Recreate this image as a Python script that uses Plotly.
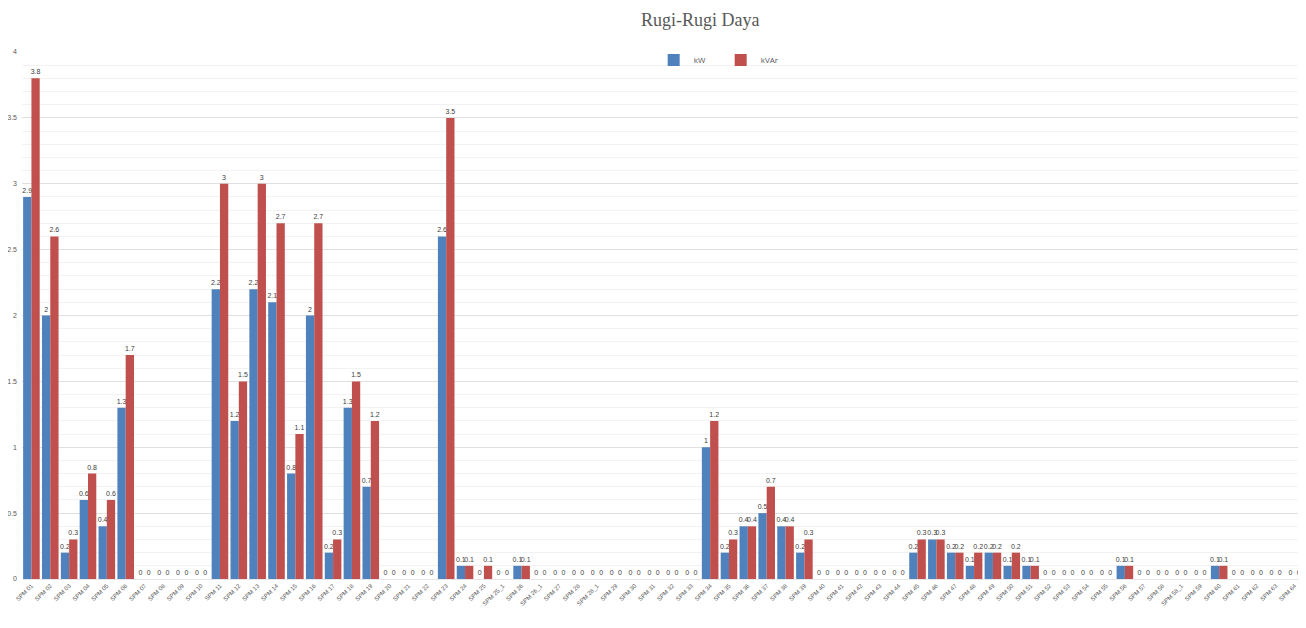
import plotly.graph_objects as go

categories = [
    "SPM 01", "SPM 02", "SPM 03", "SPM 04", "SPM 05", "SPM 06", "SPM 07", "SPM 08",
    "SPM 09", "SPM 10", "SPM 11", "SPM 12", "SPM 13", "SPM 14", "SPM 15", "SPM 16",
    "SPM 17", "SPM 18", "SPM 19", "SPM 20", "SPM 21", "SPM 22", "SPM 23", "SPM 24",
    "SPM 25", "SPM 25_1", "SPM 26", "SPM 26_1", "SPM 27", "SPM 28", "SPM 28_1", "SPM 29",
    "SPM 30", "SPM 31", "SPM 32", "SPM 33", "SPM 34", "SPM 35", "SPM 36", "SPM 37",
    "SPM 38", "SPM 39", "SPM 40", "SPM 41", "SPM 42", "SPM 43", "SPM 44", "SPM 45",
    "SPM 46", "SPM 47", "SPM 48", "SPM 49", "SPM 50", "SPM 51", "SPM 52", "SPM 53",
    "SPM 54", "SPM 55", "SPM 56", "SPM 57", "SPM 58", "SPM 58_1", "SPM 59", "SPM 60",
    "SPM 61", "SPM 62", "SPM 63", "SPM 64",
]

kw = [
    2.9, 2, 0.2, 0.6, 0.4, 1.3, 0, 0,
    0, 0, 2.2, 1.2, 2.2, 2.1, 0.8, 2,
    0.2, 1.3, 0.7, 0, 0, 0, 2.6, 0.1,
    0, 0, 0.1, 0, 0, 0, 0, 0,
    0, 0, 0, 0, 1, 0.2, 0.4, 0.5,
    0.4, 0.2, 0, 0, 0, 0, 0, 0.2,
    0.3, 0.2, 0.1, 0.2, 0.1, 0.1, 0, 0,
    0, 0, 0.1, 0, 0, 0, 0, 0.1,
    0, 0, 0, 0,
]

kvar = [
    3.8, 2.6, 0.3, 0.8, 0.6, 1.7, 0, 0,
    0, 0, 3, 1.5, 3, 2.7, 1.1, 2.7,
    0.3, 1.5, 1.2, 0, 0, 0, 3.5, 0.1,
    0.1, 0, 0.1, 0, 0, 0, 0, 0,
    0, 0, 0, 0, 1.2, 0.3, 0.4, 0.7,
    0.4, 0.3, 0, 0, 0, 0, 0, 0.3,
    0.3, 0.2, 0.2, 0.2, 0.2, 0.1, 0, 0,
    0, 0, 0.1, 0, 0, 0, 0, 0.1,
    0, 0, 0, 0,
]

series_names = ["kW", "kVAr"]
colors = ["#4F81BD", "#C0504D"]


def fmt(v):
    return ("%g" % v)


fig = go.Figure()
for name, vals, col in zip(series_names, [kw, kvar], colors):
    fig.add_trace(go.Bar(
        x=categories, y=vals, name=name,
        marker=dict(color=col, line=dict(width=0)),
        text=[fmt(v) for v in vals], textposition="outside",
        textfont=dict(size=7, color="#404040", family="Liberation Sans"),
        cliponaxis=False,
    ))

fig.update_layout(
    width=1306, height=628,
    margin=dict(l=14, r=10, t=44, b=57),
    paper_bgcolor="white", plot_bgcolor="white",
    barmode="group", bargap=0.12, bargroupgap=0.0,
    title=dict(text="Rugi-Rugi Daya", x=0.53, xanchor="center", y=0.981, yanchor="middle",
               font=dict(family="Liberation Serif", size=18, color="#595959")),
    legend=dict(orientation="h", x=0.545, xanchor="center", y=0.985, yanchor="middle",
                font=dict(size=8, color="#595959"), bgcolor="rgba(0,0,0,0)",
                itemwidth=30, entrywidth=22, entrywidthmode="pixels", tracegroupgap=0),
    showlegend=True,
    uniformtext=dict(minsize=6, mode="show"),
)

fig.update_yaxes(
    range=[0, 4], dtick=0.5, automargin=False,
    showgrid=True, gridcolor="#e0e0e0", gridwidth=1,
    minor=dict(dtick=0.1, showgrid=True, gridcolor="#f2f2f2", gridwidth=1),
    zeroline=False, showline=False,
    tickfont=dict(size=7, color="#595959", family="Liberation Sans"),
    ticks="", ticklabelstandoff=4,
)
fig.update_xaxes(
    tickangle=-45, automargin=False,
    tickfont=dict(size=6, color="#595959", family="Liberation Sans"),
    showgrid=False, showline=True, linecolor="#e6e6e6", ticks="",
)

fig.write_html("out.html")
